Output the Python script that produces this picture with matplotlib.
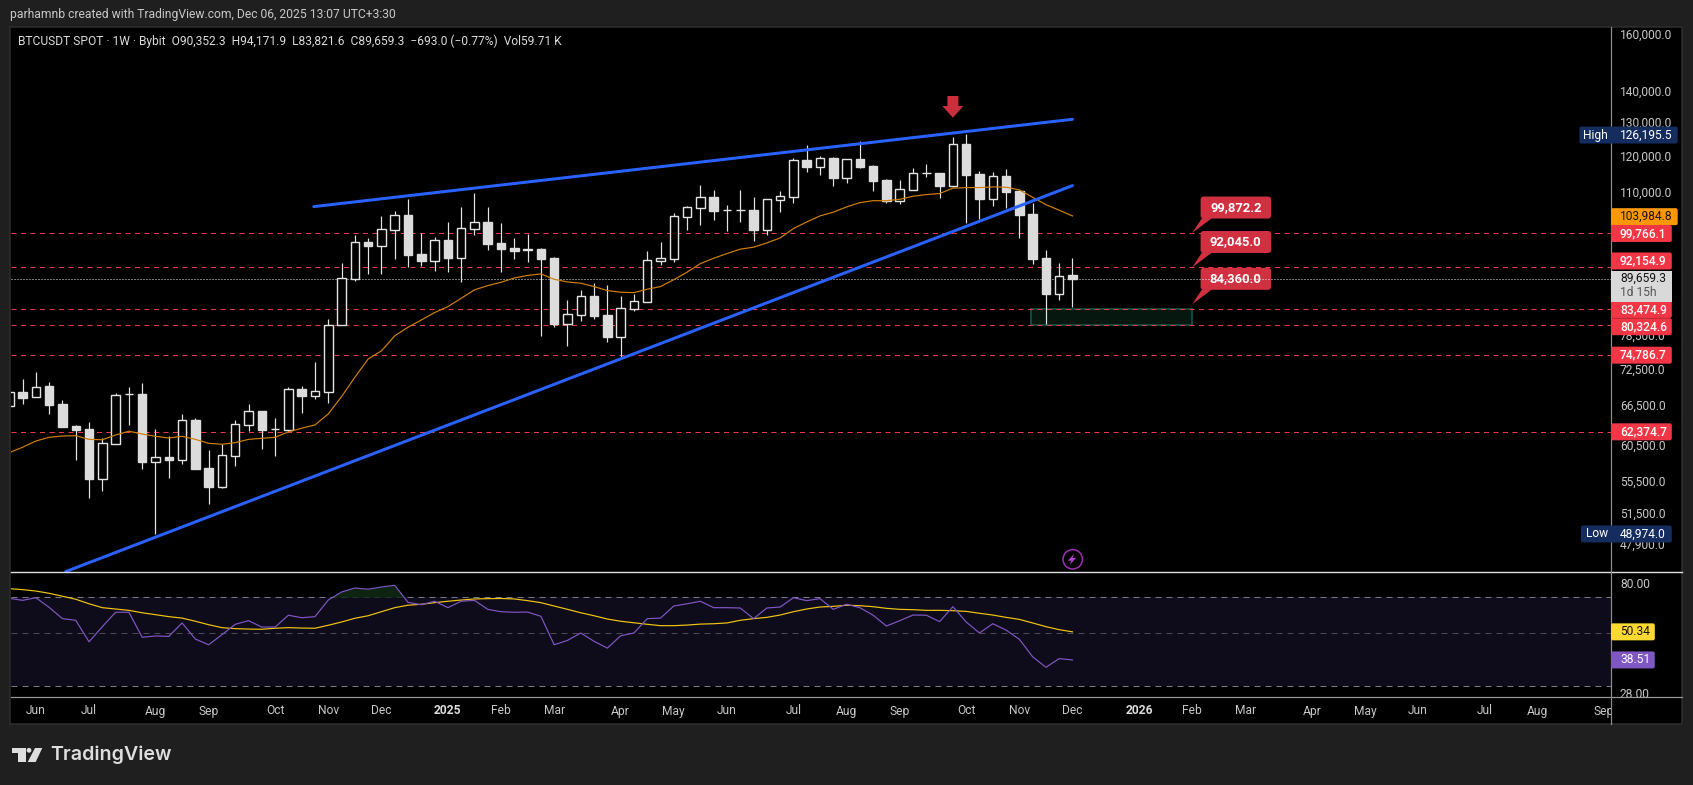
"""BTCUSDT weekly chart with RSI pane, TradingView dark layout."""

import matplotlib
import matplotlib.pyplot as plt
from matplotlib.patches import Circle, FancyBboxPatch, Polygon, Rectangle
from matplotlib.transforms import Affine2D, Bbox

matplotlib.use("Agg")

plt.rcParams["font.family"] = ["Roboto", "DejaVu Sans"]
plt.rcParams["lines.scale_dashes"] = False

opens = [66270, 68500, 67690, 69480, 66630, 63250, 62800, 55830, 60650, 68150, 68230, 58110, 58760, 58380,
         64140, 57260, 54790, 58950, 63440, 65540, 62740, 62700, 68990, 67950, 68600, 80280, 89640, 97720,
         96945, 100690, 104170, 95060, 93540, 98240, 94210, 100930, 102520, 97560, 96420, 96050, 96190,
         94150, 80590, 82320, 86050, 82260, 78150, 83510, 84880, 93540, 93990, 103830, 106070, 108700,
         105400, 105400, 105500, 100690, 108070, 108860, 118720, 116880, 119210, 113860, 118920, 117000,
         113230, 107820, 110690, 115000, 115070, 111660, 123240, 114880, 108330, 114240, 110350, 104500,
         94150, 86430, 90352.3]
highs = [68800, 70680, 71830, 70140, 67200, 63400, 63800, 61420, 68340, 69370, 70020, 62800, 61760, 65070,
         64450, 59750, 60650, 64140, 66630, 65540, 64450, 69320, 69530, 73590, 81480, 93040, 99430, 98716,
         104000, 105250, 108250, 99900, 98950, 102520, 106240, 109820, 106240, 102290, 98716, 99600, 96420,
         94370, 85220, 87290, 88680, 88260, 86050, 86520, 95740, 97720, 104750, 106490, 111920, 110610,
         106740, 110610, 108780, 108170, 110350, 119210, 123040, 119870, 119580, 118920, 124190, 117270,
         113500, 113230, 116530, 117620, 115070, 125390, 126195.5, 115700, 115430, 116250, 110610, 107240,
         95965, 93040, 94171.9]
lows = [66000, 66630, 67690, 65070, 63150, 58340, 53330, 54270, 60650, 63400, 57130, 48974, 55950, 57800,
        57130, 52580, 54620, 57530, 62480, 59900, 58900, 62480, 65230, 67410, 66790, 80280, 89215, 90660,
        90660, 93920, 92175, 92390, 91310, 91090, 88950, 99430, 95965, 91090, 93920, 93260, 78270,
        80020, 76440, 81090, 81480, 77160, 74520, 83110, 84880, 92610, 93260, 100620, 101810, 103000,
        100380, 102520, 98010, 99430, 104990, 107240, 115430, 114600, 111660, 112440, 116530, 110350,
        107240, 106990, 110690, 114050, 108520, 111400, 102290, 103250, 106490, 105990, 98716, 92830,
        80530, 85220, 83821.6]
closes = [68500, 67620, 69420, 66470, 63150, 62655, 55785, 60700, 68010, 68210, 58070, 58720, 58340, 64100,
          57130, 54750, 59000, 63500, 65490, 62655, 62780, 68990, 67900, 68670, 80280, 89730, 97720, 96875,
          100790, 104170, 94830, 93470, 98170, 94150, 101030, 102450, 97330, 96190, 95805, 96100, 93920,
          80530, 82400, 86050, 82070, 78090, 83580, 84960, 93625, 94080, 103920, 106170, 108700, 105250,
          105440, 105440, 100620, 108170, 108960, 118640, 116800, 119210, 113780, 118920, 116800, 112970,
          107740, 110790, 115070, 115040, 111660, 123240, 114600, 108250, 114240, 110090, 104250, 93920,
          86430, 90160, 89659.3]
ema = [59370, 60140, 61030, 61570, 61760, 61810, 61270, 61215, 61910, 62460, 62050, 61715, 61470, 61715,
       61270, 60700, 60560, 60790, 61270, 61420, 61570, 62360, 62910, 63400, 65070, 67790, 70970, 74110,
       75550, 78270, 79910, 81280, 82720, 83900, 85570, 87290, 88180, 88880, 89790, 90330, 90660,
       89510, 88950, 88680, 87980, 87150, 86810, 86730, 87430, 87980, 89425, 91030, 92890, 94080,
       95125, 96120, 96580, 97560, 98716, 100930, 102520, 104000, 104930, 106240, 107320, 107820,
       107820, 108170, 108960, 109390, 109660, 111060, 111220, 111220, 111400, 111320, 110610, 108700,
       106820, 105420, 103984.8]
rsi = [69.3, 68.0, 69.7, 63.6, 57.1, 56.2, 45.8, 52.9, 60.7, 60.7, 47.8, 48.4, 48.2, 54.8, 47.0, 44.5,
       49.0, 54.1, 56.0, 52.7, 52.7, 59.0, 57.6, 58.2, 68.2, 73.6, 76.5, 75.6, 77.2, 78.5, 66.7, 65.2,
       67.4, 63.4, 67.4, 68.0, 62.4, 61.0, 60.7, 60.8, 58.4, 44.5, 46.4, 49.8, 46.0, 43.1, 48.5, 49.8,
       57.1, 57.4, 64.4, 65.8, 67.4, 63.4, 63.4, 63.2, 57.1, 63.2, 63.8, 69.7, 67.8, 69.1, 62.4, 65.5,
       63.4, 59.0, 53.2, 56.0, 59.1, 59.0, 55.5, 64.0, 55.3, 49.8, 54.4, 51.2, 46.9, 39.7, 35.9, 39.0, 38.51]
rsi_ma = [76.0, 75.3, 74.3, 72.7, 70.7, 68.7, 65.8, 63.4, 62.6, 61.8, 60.4, 59.3, 58.2, 57.4, 55.7, 53.9,
          52.4, 51.9, 51.7, 51.6, 52.1, 52.4, 52.2, 52.1, 53.6, 55.3, 57.3, 58.7, 61.0, 63.4, 64.9, 65.5,
          66.5, 67.4, 68.2, 68.9, 69.1, 69.2, 68.9, 67.8, 66.5, 64.4, 62.4, 60.4, 58.7, 56.9, 55.7, 54.9,
          54.1, 53.4, 53.4, 53.7, 54.2, 54.4, 54.8, 56.2, 57.1, 57.8, 59.1, 61.0, 62.6, 63.8, 64.2, 64.9,
          64.6, 64.0, 63.0, 62.4, 62.2, 61.8, 61.8, 61.6, 61.2, 60.1, 59.1, 57.8, 56.7, 54.8, 52.9, 51.4, 50.34]

support_levels = [99766.1, 92154.9, 83474.9, 80324.6, 74786.7, 62374.7]
last_price = 89659.3
ema_last = 103984.8
high_price = 126195.5
low_price = 48974.0
upper_trend_x = [22.91, 80.0]
upper_trend_y = [106320, 130740]
lower_trend_x = [4.25, 80.0]
lower_trend_y = [44800, 111740]
zone_x = [76.9, 89.0]
zone_y = [80324.6, 83474.9]
callout_values = [99872.2, 92045.0, 84360.0]
callout_x = 89.0
arrow_week = 71

price_ticks = [160000, 140000, 130000, 120000, 110000, 78500, 72500, 66500, 60500, 55500, 51500, 47900]
rsi_ticks = [80, 28]
rsi_tick_labels = ["80.00", "28.00"]
time_ticks = [2, 6, 11, 15, 20, 24, 28, 33, 37, 41, 46, 50, 54, 59, 63, 67, 72, 76, 80, 85, 89, 93, 98,
              102, 106, 111, 115, 120]
time_labels = ["Jun", "Jul", "Aug", "Sep", "Oct", "Nov", "Dec", "2025", "Feb", "Mar", "Apr", "May", "Jun",
               "Jul", "Aug", "Sep", "Oct", "Nov", "Dec", "2026", "Feb", "Mar", "Apr", "May", "Jun", "Jul",
               "Aug", "Sep"]

W, H = 1693, 785
L, R, T, B = 10.7, 1611, 28, 724
MAIN_BOTTOM, RSI_BOTTOM = 572, 697
PAGE = "#1f1f1f"
TEXT = "#c8c8c8"
px = Affine2D().scale(1, -1).translate(0, H)  # pixel coords, origin top left


def pt(pixels):
    return pixels * 72 / 100


def axes_rect(left, top, right, bottom):
    return [left / W, 1 - bottom / H, (right - left) / W, (bottom - top) / H]


fig = plt.figure(figsize=(W / 100, H / 100), dpi=100, facecolor=PAGE)
fig.add_artist(Rectangle((10, 27), 1672, 697, transform=px, fc="black", ec="#2e2e2e", lw=pt(1.5), zorder=-5))

ax = fig.add_axes(axes_rect(L, T, R, MAIN_BOTTOM), facecolor="black")
ax_rsi = fig.add_axes(axes_rect(L, MAIN_BOTTOM, R, RSI_BOTTOM), facecolor="black", sharex=ax)
ax.set_yscale("log")
ax_rsi.set_yscale("log")
ax.set_xlim(0.105, 120.52)
ax.set_ylim(44755, 162290)
ax_rsi.set_ylim(27.04, 89.1)
for a in (ax, ax_rsi):
    for s in a.spines.values():
        s.set_visible(False)
    a.minorticks_off()

weeks = list(range(len(closes)))

# levels and zone sit behind the candles
ax.add_patch(Rectangle((zone_x[0], zone_y[0]), zone_x[1] - zone_x[0], zone_y[1] - zone_y[0],
                       fc="#06170f", ec="#0f4a3e", lw=pt(2), zorder=1.5))
for level in support_levels:
    ax.axhline(level, color="#f23645", lw=pt(1.0), ls=(0, (pt(5), pt(4.5))), zorder=2)

# candles
for w, o, h, l, c in zip(weeks, opens, highs, lows, closes):
    ax.vlines(w, l, h, color="#e4e4e4", lw=pt(1.2), zorder=3)
    up = c >= o
    ax.bar(w, abs(c - o), bottom=min(o, c), width=0.64, fc="black" if up else "#dcdcdc",
           ec="#e4e4e4" if up else "#dcdcdc", lw=pt(1.4), zorder=3.2)
ax.axhline(last_price, color="#ededed", lw=pt(1), ls=(0, (pt(1), pt(2))), zorder=2.8)

ax.plot(weeks, ema, color="#d07f0a", lw=pt(1.2), zorder=4)
ax.plot(upper_trend_x, upper_trend_y, color="#2962ff", lw=pt(3), solid_capstyle="round", zorder=5)
ax.plot(lower_trend_x, lower_trend_y, color="#2962ff", lw=pt(3), solid_capstyle="round", zorder=5)


def price_y(value, axis=ax):
    return H - axis.transData.transform((0, value))[1]


def week_x(week):
    return ax.transData.transform((week, 100000))[0]


# callouts point at their price
for value in callout_values:
    tx, ty = week_x(callout_x), price_y(value)
    ax.add_patch(FancyBboxPatch((tx + 8.5, ty - 36.5), 70.5, 22, boxstyle="round,pad=0,rounding_size=3",
                                transform=px, fc="#d13040", ec="none", zorder=2.5, clip_on=False))
    ax.add_patch(Polygon([(tx, ty), (tx + 10, ty - 15), (tx + 20, ty - 15)], transform=px, fc="#d13040",
                         ec="none", zorder=2.5, clip_on=False))
    ax.text(tx + 43.7, ty - 25.5, f"{value:,.1f}", transform=px, color="white", fontsize=pt(13),
            fontweight="bold", ha="center", va="center", zorder=2.6)

# down arrow above the top candle
ax_x = week_x(arrow_week)
ax.add_patch(Polygon([(ax_x - 5.5, 96), (ax_x + 5.5, 96), (ax_x + 5.5, 106), (ax_x + 10.5, 106), (ax_x, 117.7),
                      (ax_x - 10.5, 106), (ax_x - 5.5, 106)], transform=px, fc="#cc2f3c", ec="none", zorder=6))

# lightning marker
ax.add_patch(Circle((1072.7, 559.3), 9.7, transform=px, fc="none", ec="#a02fb8", lw=pt(1.5), zorder=6))
ax.add_patch(Polygon([(1073.3, 554.7), (1067.7, 560.7), (1071.3, 560.7), (1070, 564.7), (1076, 558),
                      (1072.3, 558), (1074, 554.7)], transform=px, fc="#b23fd0", ec="none", zorder=6))

# RSI pane
ax_rsi.axhspan(30, 70, color="#0e0b1a", lw=0, zorder=0.5)
ax_rsi.axhline(70, color="#787b86", lw=pt(1), ls=(0, (pt(6), pt(5))), zorder=1)
ax_rsi.axhline(50, color="#4c4c54", lw=pt(1), ls=(0, (pt(6), pt(5))), zorder=1)
ax_rsi.axhline(30, color="#787b86", lw=pt(1), ls=(0, (pt(6), pt(5))), zorder=1)
ax_rsi.fill_between(weeks, rsi, 70, where=[v > 70 for v in rsi], interpolate=True, color="#0c2410", lw=0, zorder=1)
ax_rsi.plot(weeks, rsi, color="#7e57c2", lw=pt(1.2), zorder=3)
ax_rsi.plot(weeks, rsi_ma, color="#f0c414", lw=pt(1.2), zorder=2.5)

# axes labels
ax.yaxis.tick_right()
ax.set_yticks(price_ticks, [f"{v:,.1f}" for v in price_ticks])
ax.tick_params(axis="y", length=0, pad=pt(9), labelcolor=TEXT, labelsize=pt(12))
ax.tick_params(axis="x", length=0, labelbottom=False)
ax_rsi.yaxis.tick_right()
ax_rsi.set_yticks(rsi_ticks, rsi_tick_labels)
ax_rsi.minorticks_off()
ax_rsi.tick_params(axis="y", length=0, pad=pt(9), labelcolor=TEXT, labelsize=pt(12))
ax_rsi.set_xticks(time_ticks, time_labels)
ax_rsi.tick_params(axis="x", length=0, pad=pt(7.5), labelcolor=TEXT, labelsize=pt(12))
ax.set_xlim(0.105, 120.52)

for label in ax_rsi.get_xticklabels():
    label.set_clip_box(Bbox([[L, H - B], [R, H - RSI_BOTTOM]]))
    label.set_clip_on(True)
    if label.get_text().isdigit():
        label.set_fontweight("bold")
        label.set_color("#dcdcdc")
for label in ax_rsi.get_yticklabels():
    label.set_clip_box(Bbox([[R, H - RSI_BOTTOM], [1682, H - MAIN_BOTTOM]]))
    label.set_clip_on(True)

# pane borders
for y, color, lw in [(MAIN_BOTTOM, "#dfe1e6", 1.4), (RSI_BOTTOM, "#9a9a9a", 1.2)]:
    fig.add_artist(plt.Line2D([L, 1682], [y, y], transform=px, color=color, lw=pt(lw), zorder=4))
fig.add_artist(plt.Line2D([R, R], [27, B], transform=px, color="#8e8e8e", lw=pt(1.2), zorder=4))


def tag(yc, right, color, text, text_color="white", left=R, height=17, weight="normal"):
    fig.add_artist(FancyBboxPatch((left, yc - height / 2), right - left, height,
                                  boxstyle="round,pad=0,rounding_size=2", transform=px, fc=color, ec="none",
                                  zorder=5))
    fig.text(1620, yc, text, transform=px, color=text_color, fontsize=pt(12), ha="left", va="center",
             fontweight=weight, zorder=6)


red_offsets = [0, -6, 0.7, 1.7, 0, 0]
tag(price_y(ema_last) + 0.7, 1677.7, "#ff9800", f"{ema_last:,.1f}", "#131313")
for level, off in zip(support_levels, red_offsets):
    tag(price_y(level) + off, 1671.8, "#f23645", f"{level:,.1f}", weight="medium")
tag(price_y(high_price) + 0.8, 1677.7, "#152c5f", f"{high_price:,.1f}", left=1579.4)
fig.text(1582.8, price_y(high_price) + 0.8, "High", transform=px, color="white", fontsize=pt(12), va="center", zorder=6)
tag(price_y(low_price), 1671.8, "#152c5f", f"{low_price:,.1f}", left=1581)
fig.text(1585.6, price_y(low_price), "Low", transform=px, color="white", fontsize=pt(12), va="center", zorder=6)
fig.add_artist(Rectangle((R, 270.7), 60.8, 31.3, transform=px, fc="#d9d9d9", ec="none", zorder=5))
fig.text(1620, 278.7, f"{last_price:,.1f}", transform=px, color="#131313", fontsize=pt(12), va="center", zorder=6)
fig.text(1620, 292.7, "1d 15h", transform=px, color="#555555", fontsize=pt(12), va="center", zorder=6)
tag(price_y(rsi[-1], ax_rsi), 1654.8, "#7e57c2", f"{rsi[-1]:.2f}")
tag(price_y(rsi_ma[-1], ax_rsi), 1654.8, "#fdd835", f"{rsi_ma[-1]:.2f}", "#131313")

# header and legend
fig.text(9.6, 14.7, "parhamnb created with TradingView.com, Dec 06, 2025 13:07 UTC+3:30", transform=px,
         color="#c8c8c8", fontsize=pt(12.1), va="center")
fig.text(18, 41.7, "BTCUSDT SPOT · 1W · Bybit  O90,352.3  H94,171.9  L83,821.6  C89,659.3  −693.0 (−0.77%)  Vol59.71 K",
         transform=px, color="#dcdcdc", fontsize=pt(12), va="center", zorder=6)

# logo
logo = "#dedede"
fig.add_artist(Polygon([(12.3, 748), (25.7, 748), (25.7, 762), (18.3, 762), (18.3, 753), (12.3, 753)],
                       transform=px, fc=logo, ec="none"))
fig.add_artist(Circle((29, 750.3), 2.4, transform=px, fc=logo, ec="none"))
fig.add_artist(Polygon([(35, 748), (42.3, 748), (35.7, 762), (27.7, 762)], transform=px, fc=logo, ec="none"))
fig.text(50, 755, "TradingView", transform=px, color=logo, fontsize=pt(19.6), fontfamily=["Inter", "Roboto"],
         fontweight="semibold", va="center")

fig.savefig("out.png", dpi=100, facecolor=PAGE)
plt.close(fig)
